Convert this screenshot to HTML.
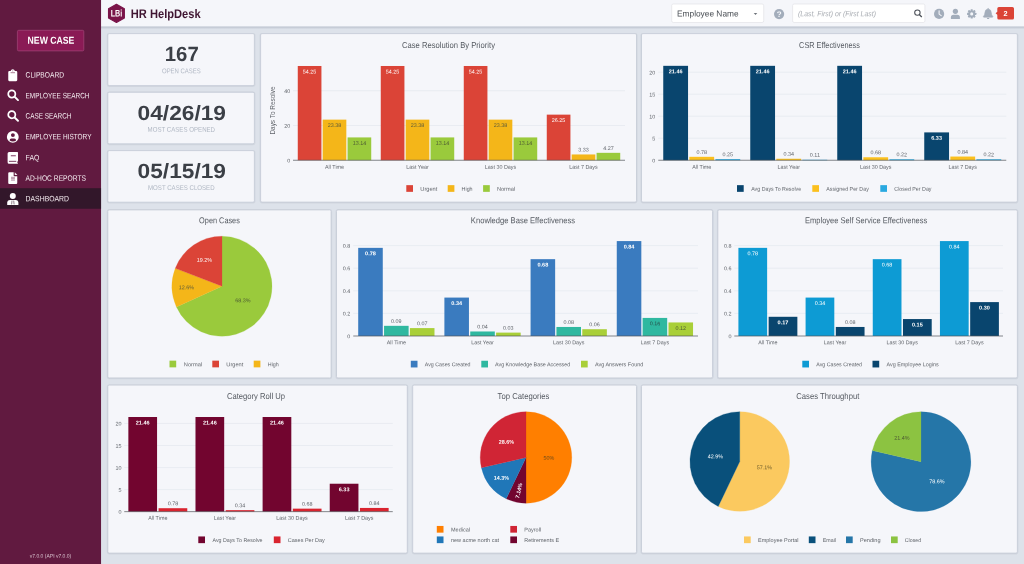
<!DOCTYPE html>
<html lang="en">
<head>
<meta charset="utf-8">
<title>HR HelpDesk - Dashboard</title>
<style>
*{box-sizing:border-box;margin:0;padding:0}
html,body{width:1024px;height:564px;overflow:hidden;background:#dde2ea;font-family:"Liberation Sans",Arial,sans-serif;}
#app{position:relative;width:1024px;height:564px;overflow:hidden;background:#dde2ea}
#sidebar{position:absolute;left:0;top:0;width:101px;height:564px;background:#611a40}
#topbar{position:absolute;left:101px;top:0;width:923px;height:26px;background:#f5f6fa}
.card{position:absolute;background:#f5f6fa}
svg.layer{position:absolute;left:0;top:0;width:1024px;height:564px;overflow:visible}
svg text{font-family:"Liberation Sans",Arial,sans-serif}
.t{position:absolute;white-space:nowrap;transform-origin:0 50%;line-height:1}
#newcase{position:absolute;left:17px;top:30px;width:67px;height:21px;background:#8a1a55;border-radius:1.5px}
.nav{position:absolute;left:0;width:101px;height:20.5px}
.nav.active{background:#32172a}
.field{position:absolute;top:4px;height:18px;background:#fff;border-radius:2px}
</style>
</head>
<body>
<div id="app">

<nav id="sidebar">
<div id="newcase"></div>
<div class="nav" style="top:64.70px"></div>
<div class="nav" style="top:85.40px"></div>
<div class="nav" style="top:105.70px"></div>
<div class="nav" style="top:126.40px"></div>
<div class="nav" style="top:147.40px"></div>
<div class="nav" style="top:168.00px"></div>
<div class="nav active" style="top:188.50px"></div>
</nav>
<header id="topbar"></header>
<div class="field" style="left:671.3px;width:92.6px"></div>
<div class="field" style="left:792.3px;width:132.8px"></div>
<section class="card" aria-label="Open cases" style="left:108px;top:34px;width:146px;height:51px"></section>
<section class="card" aria-label="Most cases opened" style="left:108px;top:93px;width:146px;height:50px"></section>
<section class="card" aria-label="Most cases closed" style="left:108px;top:151px;width:146px;height:51px"></section>
<section class="card" aria-label="Case Resolution By Priority" style="left:261px;top:34px;width:375px;height:168px"></section>
<section class="card" aria-label="CSR Effectiveness" style="left:642px;top:34px;width:375px;height:168px"></section>
<section class="card" aria-label="Open Cases" style="left:108px;top:210px;width:223px;height:168px"></section>
<section class="card" aria-label="Knowledge Base Effectiveness" style="left:337px;top:210px;width:375px;height:168px"></section>
<section class="card" aria-label="Employee Self Service Effectiveness" style="left:718px;top:210px;width:299px;height:168px"></section>
<section class="card" aria-label="Category Roll Up" style="left:108px;top:386px;width:299px;height:167px"></section>
<section class="card" aria-label="Top Categories" style="left:413px;top:386px;width:223px;height:167px"></section>
<section class="card" aria-label="Cases Throughput" style="left:642px;top:386px;width:375px;height:167px"></section>
<svg class="layer" viewBox="0 0 1024 564" width="1024" height="564">
<defs><linearGradient id="tbsh" x1="0" y1="0" x2="0" y2="1"><stop offset="0" stop-color="#d3d8e1"/><stop offset="0.38" stop-color="#c3c9d4"/><stop offset="1" stop-color="#dde2ea"/></linearGradient></defs>
<rect x="101" y="26.1" width="923" height="3.1" fill="url(#tbsh)"/>
<rect x="101" y="0" width="923" height="26.2" fill="#f5f6fa"/>
<rect x="0" y="0" width="101.05" height="564" fill="#611a40"/>
<rect x="0" y="188.2" width="101.05" height="20.55" fill="#32172a"/>
<rect x="17.4" y="30.3" width="66.4" height="20.6" rx="1.3" fill="#8a1a55" stroke="#a4487a" stroke-width="0.7"/>
<rect x="671.7" y="4.0" width="92" height="18.5" rx="1.6" fill="#ffffff" stroke="#e2e3e6" stroke-width="0.7"/>
<rect x="792.6" y="4.0" width="132.3" height="18.5" rx="1.6" fill="#ffffff" stroke="#e2e3e6" stroke-width="0.7"/>
<rect x="107.60" y="33.70" width="147.00" height="52.50" rx="1.6" fill="none" stroke="#b9c0cc" stroke-opacity=".35" stroke-width="1.6"/>
<rect x="107.80" y="33.60" width="146.60" height="52.00" rx="1.4" fill="#f5f6fa" stroke="#c4cad5" stroke-width="0.8"/>
<rect x="107.60" y="92.40" width="147.00" height="52.00" rx="1.6" fill="none" stroke="#b9c0cc" stroke-opacity=".35" stroke-width="1.6"/>
<rect x="107.80" y="92.30" width="146.60" height="51.50" rx="1.4" fill="#f5f6fa" stroke="#c4cad5" stroke-width="0.8"/>
<rect x="107.60" y="150.70" width="147.00" height="52.10" rx="1.6" fill="none" stroke="#b9c0cc" stroke-opacity=".35" stroke-width="1.6"/>
<rect x="107.80" y="150.60" width="146.60" height="51.60" rx="1.4" fill="#f5f6fa" stroke="#c4cad5" stroke-width="0.8"/>
<rect x="260.40" y="33.70" width="376.30" height="169.00" rx="1.6" fill="none" stroke="#b9c0cc" stroke-opacity=".35" stroke-width="1.6"/>
<rect x="260.60" y="33.60" width="375.90" height="168.50" rx="1.4" fill="#f5f6fa" stroke="#c4cad5" stroke-width="0.8"/>
<rect x="641.30" y="33.70" width="376.30" height="169.00" rx="1.6" fill="none" stroke="#b9c0cc" stroke-opacity=".35" stroke-width="1.6"/>
<rect x="641.50" y="33.60" width="375.90" height="168.50" rx="1.4" fill="#f5f6fa" stroke="#c4cad5" stroke-width="0.8"/>
<rect x="107.60" y="210.00" width="223.70" height="168.50" rx="1.6" fill="none" stroke="#b9c0cc" stroke-opacity=".35" stroke-width="1.6"/>
<rect x="107.80" y="209.90" width="223.30" height="168.00" rx="1.4" fill="#f5f6fa" stroke="#c4cad5" stroke-width="0.8"/>
<rect x="336.30" y="210.00" width="376.45" height="168.50" rx="1.6" fill="none" stroke="#b9c0cc" stroke-opacity=".35" stroke-width="1.6"/>
<rect x="336.50" y="209.90" width="376.05" height="168.00" rx="1.4" fill="#f5f6fa" stroke="#c4cad5" stroke-width="0.8"/>
<rect x="717.65" y="210.00" width="299.95" height="168.50" rx="1.6" fill="none" stroke="#b9c0cc" stroke-opacity=".35" stroke-width="1.6"/>
<rect x="717.85" y="209.90" width="299.55" height="168.00" rx="1.4" fill="#f5f6fa" stroke="#c4cad5" stroke-width="0.8"/>
<rect x="107.60" y="385.20" width="299.90" height="168.50" rx="1.6" fill="none" stroke="#b9c0cc" stroke-opacity=".35" stroke-width="1.6"/>
<rect x="107.80" y="385.10" width="299.50" height="168.00" rx="1.4" fill="#f5f6fa" stroke="#c4cad5" stroke-width="0.8"/>
<rect x="412.50" y="385.20" width="224.20" height="168.50" rx="1.6" fill="none" stroke="#b9c0cc" stroke-opacity=".35" stroke-width="1.6"/>
<rect x="412.70" y="385.10" width="223.80" height="168.00" rx="1.4" fill="#f5f6fa" stroke="#c4cad5" stroke-width="0.8"/>
<rect x="641.30" y="385.20" width="376.30" height="168.50" rx="1.6" fill="none" stroke="#b9c0cc" stroke-opacity=".35" stroke-width="1.6"/>
<rect x="641.50" y="385.10" width="375.90" height="168.00" rx="1.4" fill="#f5f6fa" stroke="#c4cad5" stroke-width="0.8"/>
<g transform="translate(12.75 75.2)"><path d="M-3.4 -4.1h1.3q.4-1.9 2.1-1.9t2.1 1.9h1.3q1.1 0 1.1 1.1v7.9q0 1.1-1.1 1.1h-6.8q-1.1 0-1.1-1.1v-7.9q0-1.1 1.1-1.1z" fill="#fff"/><path d="M-1.8 -2.5h3.7" stroke="#8a4a6c" stroke-width=".7" stroke-linecap="round"/><circle cx="0" cy="-4.3" r=".55" fill="#b98aa4"/></g>
<g transform="translate(12.9 95.3)"><circle cx="-1.1" cy="-1.3" r="3.55" fill="none" stroke="#fff" stroke-width="1.75"/><path d="M1.7 1.5L5.1 4.8" stroke="#fff" stroke-width="1.9" stroke-linecap="round"/></g>
<g transform="translate(12.9 116.0)"><circle cx="-1.1" cy="-1.3" r="3.55" fill="none" stroke="#fff" stroke-width="1.75"/><path d="M1.7 1.5L5.1 4.8" stroke="#fff" stroke-width="1.9" stroke-linecap="round"/></g>
<g transform="translate(12.8 136.9)"><circle cx="0" cy="0" r="5.9" fill="#fff"/><circle cx="0.1" cy="-1.8" r="1.95" fill="#611a40"/><path d="M-3.2 3.6q0-1.9 1.8-1.9h2.9q1.8 0 1.8 1.9q-1.4 .9-3.25 .9t-3.25-.9z" fill="#611a40"/></g>
<g transform="translate(12.7 157.8)"><path d="M-5.1 -4.4q0-1.5 1.5-1.5h8.2q.7 0 .7.7v8.2q0 .6-.6.7v1.4q.6.1.6.6q0 .3-.6.3h-8.3q-1.5 0-1.5-1.5z" fill="#fff"/><path d="M-1.9 -2.1h5" stroke="#9a6584" stroke-width="1.3"/><path d="M-3.4 3.55h6.6" stroke="#6d2a50" stroke-width=".9" stroke-linecap="round"/></g>
<g transform="translate(12.75 178.1)"><path d="M-4.5 -4.9q0-1 1-1h4.4v3.4q0 .6.6.6h3v6.8q0 1-1 1h-7q-1 0-1-1z" fill="#fff"/><path d="M2 -5.9l2.5 2.6v.2h-2.5z" fill="#f3e9ee"/><path d="M-1.7 -.8h3.9M-1.7 .6h3.9M-1.7 2h3.9" stroke="#9a6584" stroke-width=".75"/></g>
<g transform="translate(12.75 199.0)"><circle cx="0.05" cy="-3.0" r="3.0" fill="#fff"/><path d="M-5.55 6.1v-2.3q0-2.9 2.9-2.9h5.4q2.9 0 2.9 2.9v2.3z" fill="#fff"/><path d="M-.75 1.6L-1.15 5.4M.95 1.6L1.35 5.4" stroke="#4a2f42" stroke-width=".6"/></g>
<path d="M116.45 4.3L124.4 8.85V17.95L116.45 22.5L108.5 17.95V8.85Z" fill="#7a1449" stroke="#7a1449" stroke-width="1.1" stroke-linejoin="round"/>
<text x="116.50" y="16.50" font-size="9.6" fill="#ffffff" text-anchor="middle" font-weight="bold" textLength="11.60" lengthAdjust="spacingAndGlyphs" transform="rotate(0.04 116.50 13.20)">LBi</text>
<path d="M753.7 12.9h3.6l-1.8 2.1z" fill="#6f747b"/>
<circle cx="779.1" cy="14.1" r="5.1" fill="#a3adbb"/>
<text x="779.10" y="16.95" font-size="8" fill="#f4f6fa" text-anchor="middle" font-weight="bold" transform="rotate(0.04 779.10 14.20)">?</text>
<circle cx="917.4" cy="12.6" r="2.7" fill="none" stroke="#4a4f57" stroke-width="1.05"/><path d="M919.5 14.7L921.5 16.7" stroke="#4a4f57" stroke-width="1.25" stroke-linecap="round"/>
<circle cx="939.1" cy="13.9" r="5.1" fill="#a3adbb"/><path d="M939.1 10.7V14.1L941.2 15.6" fill="none" stroke="#f4f6fa" stroke-width="1.1" stroke-linecap="round" stroke-linejoin="round"/>
<circle cx="955.4" cy="11.3" r="2.6" fill="#a3adbb"/><path d="M950.9 19v-1.6q0-2.6 2.6-2.6h3.8q2.6 0 2.6 2.6v1.6z" fill="#a3adbb"/>
<g transform="translate(971.7 13.9) scale(0.9)"><rect x="-1.15" y="-5.2" width="2.3" height="3" rx=".4" fill="#a3adbb" transform="rotate(0)"/><rect x="-1.15" y="-5.2" width="2.3" height="3" rx=".4" fill="#a3adbb" transform="rotate(45)"/><rect x="-1.15" y="-5.2" width="2.3" height="3" rx=".4" fill="#a3adbb" transform="rotate(90)"/><rect x="-1.15" y="-5.2" width="2.3" height="3" rx=".4" fill="#a3adbb" transform="rotate(135)"/><rect x="-1.15" y="-5.2" width="2.3" height="3" rx=".4" fill="#a3adbb" transform="rotate(180)"/><rect x="-1.15" y="-5.2" width="2.3" height="3" rx=".4" fill="#a3adbb" transform="rotate(225)"/><rect x="-1.15" y="-5.2" width="2.3" height="3" rx=".4" fill="#a3adbb" transform="rotate(270)"/><rect x="-1.15" y="-5.2" width="2.3" height="3" rx=".4" fill="#a3adbb" transform="rotate(315)"/><circle r="3.9" fill="#a3adbb"/><circle r="1.7" fill="#f4f6fa"/></g>
<path d="M988.1 8.9q.5-.6 0-.6q-.5 0 0 .6q3.2.5 3.2 3.9q0 2.3 1.5 3.6q.3.8-.5.8h-8.4q-.8 0-.5-.8q1.5-1.3 1.5-3.6q0-3.4 3.2-3.9z" fill="#a3adbb" stroke="#a3adbb" stroke-width=".6" stroke-linejoin="round"/><path d="M986.8 17.9h2.6q-.2 1.2-1.3 1.2t-1.3-1.2z" fill="#a3adbb"/>
<path d="M998.9 6.9h13.5q1.6 0 1.6 1.6v9.5q0 1.6-1.6 1.6h-13.5q-1.6 0-1.6-1.6v-3.2l-1.7-1.5l1.7-1.5v-3.3q0-1.6 1.6-1.6z" fill="#db4437"/>
<text x="1005.60" y="15.91" font-size="7.3" fill="#ffffff" text-anchor="middle" font-weight="bold" transform="rotate(0.04 1005.60 13.40)">2</text>
<text x="27.60" y="43.71" font-size="10.2" fill="#ffffff" font-weight="bold" textLength="46.80" lengthAdjust="spacingAndGlyphs" transform="rotate(0.04 27.60 40.20)">NEW CASE</text>
<text x="25.60" y="77.48" font-size="7.8" fill="#f6eef2" textLength="38.40" lengthAdjust="spacingAndGlyphs" transform="rotate(0.04 25.60 74.80)">CLIPBOARD</text>
<text x="25.60" y="98.18" font-size="7.8" fill="#f6eef2" textLength="63.80" lengthAdjust="spacingAndGlyphs" transform="rotate(0.04 25.60 95.50)">EMPLOYEE SEARCH</text>
<text x="25.60" y="118.48" font-size="7.8" fill="#f6eef2" textLength="45.90" lengthAdjust="spacingAndGlyphs" transform="rotate(0.04 25.60 115.80)">CASE SEARCH</text>
<text x="25.60" y="139.18" font-size="7.8" fill="#f6eef2" textLength="65.90" lengthAdjust="spacingAndGlyphs" transform="rotate(0.04 25.60 136.50)">EMPLOYEE HISTORY</text>
<text x="25.60" y="160.18" font-size="7.8" fill="#f6eef2" textLength="13.80" lengthAdjust="spacingAndGlyphs" transform="rotate(0.04 25.60 157.50)">FAQ</text>
<text x="25.60" y="180.78" font-size="7.8" fill="#f6eef2" textLength="60.40" lengthAdjust="spacingAndGlyphs" transform="rotate(0.04 25.60 178.10)">AD-HOC REPORTS</text>
<text x="25.60" y="201.28" font-size="7.8" fill="#f6eef2" textLength="43.40" lengthAdjust="spacingAndGlyphs" transform="rotate(0.04 25.60 198.60)">DASHBOARD</text>
<text x="50.50" y="557.66" font-size="5.4" fill="#d9c3cf" text-anchor="middle" textLength="41.50" lengthAdjust="spacingAndGlyphs" transform="rotate(0.04 50.50 555.80)">v7.0.0 (API v7.0.0)</text>
<text x="130.80" y="18.00" font-size="12.5" fill="#401632" font-weight="bold" textLength="69.80" lengthAdjust="spacingAndGlyphs" transform="rotate(0.04 130.80 13.70)">HR HelpDesk</text>
<text x="677.00" y="16.56" font-size="8.6" fill="#4a4f55" textLength="61.60" lengthAdjust="spacingAndGlyphs" transform="rotate(0.04 677.00 13.60)">Employee Name</text>
<text x="798.00" y="16.31" font-size="7.6" fill="#a9adb3" font-style="italic" textLength="78.00" lengthAdjust="spacingAndGlyphs" transform="rotate(0.04 798.00 13.70)">(Last, First) or (First Last)</text>
<text x="181.80" y="61.09" font-size="20.6" fill="#3b3f46" text-anchor="middle" font-weight="bold" textLength="34.00" lengthAdjust="spacingAndGlyphs" transform="rotate(0.04 181.80 54.00)">167</text>
<text x="181.40" y="73.17" font-size="6.9" fill="#b1b8c4" text-anchor="middle" textLength="38.80" lengthAdjust="spacingAndGlyphs" transform="rotate(0.04 181.40 70.80)">OPEN CASES</text>
<text x="181.80" y="120.09" font-size="20.6" fill="#3b3f46" text-anchor="middle" font-weight="bold" textLength="88.40" lengthAdjust="spacingAndGlyphs" transform="rotate(0.04 181.80 113.00)">04/26/19</text>
<text x="181.30" y="131.87" font-size="6.9" fill="#b1b8c4" text-anchor="middle" textLength="67.50" lengthAdjust="spacingAndGlyphs" transform="rotate(0.04 181.30 129.50)">MOST CASES OPENED</text>
<text x="181.80" y="177.99" font-size="20.6" fill="#3b3f46" text-anchor="middle" font-weight="bold" textLength="88.40" lengthAdjust="spacingAndGlyphs" transform="rotate(0.04 181.80 170.90)">05/15/19</text>
<text x="181.30" y="189.97" font-size="6.9" fill="#b1b8c4" text-anchor="middle" textLength="66.50" lengthAdjust="spacingAndGlyphs" transform="rotate(0.04 181.30 187.60)">MOST CASES CLOSED</text>
<g>
<text x="448.50" y="47.96" font-size="8.6" fill="#555a61" text-anchor="middle" textLength="93.00" lengthAdjust="spacingAndGlyphs" transform="rotate(0.04 448.50 45.00)">Case Resolution By Priority</text>
<line x1="293.00" x2="625.00" y1="125.50" y2="125.50" stroke="#e1e5ec" stroke-width="0.6"/>
<line x1="293.00" x2="625.00" y1="90.75" y2="90.75" stroke="#e1e5ec" stroke-width="0.6"/>
<rect x="297.77" y="65.99" width="23.66" height="94.26" fill="#db4437"/>
<rect x="322.67" y="119.63" width="23.66" height="40.62" fill="#f4b619"/>
<rect x="347.57" y="137.42" width="23.66" height="22.83" fill="#9aca3c"/>
<rect x="380.77" y="65.99" width="23.66" height="94.26" fill="#db4437"/>
<rect x="405.67" y="119.63" width="23.66" height="40.62" fill="#f4b619"/>
<rect x="430.57" y="137.42" width="23.66" height="22.83" fill="#9aca3c"/>
<rect x="463.77" y="65.99" width="23.66" height="94.26" fill="#db4437"/>
<rect x="488.67" y="119.63" width="23.66" height="40.62" fill="#f4b619"/>
<rect x="513.57" y="137.42" width="23.66" height="22.83" fill="#9aca3c"/>
<rect x="546.77" y="114.64" width="23.66" height="45.61" fill="#db4437"/>
<rect x="571.67" y="154.46" width="23.66" height="5.79" fill="#f4b619"/>
<rect x="596.57" y="152.83" width="23.66" height="7.42" fill="#9aca3c"/>
<line x1="293.00" x2="625.00" y1="160.25" y2="160.25" stroke="#505459" stroke-width="0.7"/>
<text x="309.60" y="73.45" font-size="5.4" fill="#ffffff" text-anchor="middle" transform="rotate(0.04 309.60 71.59)">54.25</text>
<text x="334.50" y="127.08" font-size="5.4" fill="#5b5a3a" text-anchor="middle" transform="rotate(0.04 334.50 125.23)">23.38</text>
<text x="359.40" y="144.88" font-size="5.4" fill="#4d5a33" text-anchor="middle" transform="rotate(0.04 359.40 143.02)">13.14</text>
<text x="392.60" y="73.45" font-size="5.4" fill="#ffffff" text-anchor="middle" transform="rotate(0.04 392.60 71.59)">54.25</text>
<text x="417.50" y="127.08" font-size="5.4" fill="#5b5a3a" text-anchor="middle" transform="rotate(0.04 417.50 125.23)">23.38</text>
<text x="442.40" y="144.88" font-size="5.4" fill="#4d5a33" text-anchor="middle" transform="rotate(0.04 442.40 143.02)">13.14</text>
<text x="475.60" y="73.45" font-size="5.4" fill="#ffffff" text-anchor="middle" transform="rotate(0.04 475.60 71.59)">54.25</text>
<text x="500.50" y="127.08" font-size="5.4" fill="#5b5a3a" text-anchor="middle" transform="rotate(0.04 500.50 125.23)">23.38</text>
<text x="525.40" y="144.88" font-size="5.4" fill="#4d5a33" text-anchor="middle" transform="rotate(0.04 525.40 143.02)">13.14</text>
<text x="558.60" y="122.10" font-size="5.4" fill="#ffffff" text-anchor="middle" transform="rotate(0.04 558.60 120.24)">26.25</text>
<text x="583.50" y="151.57" font-size="5.4" fill="#61656b" text-anchor="middle" transform="rotate(0.04 583.50 149.71)">3.33</text>
<text x="608.40" y="149.94" font-size="5.4" fill="#61656b" text-anchor="middle" transform="rotate(0.04 608.40 148.08)">4.27</text>
<text x="290.20" y="162.41" font-size="5.4" fill="#61656b" text-anchor="end" transform="rotate(0.04 290.20 160.55)">0</text>
<text x="290.20" y="127.66" font-size="5.4" fill="#61656b" text-anchor="end" transform="rotate(0.04 290.20 125.80)">20</text>
<text x="290.20" y="92.91" font-size="5.4" fill="#61656b" text-anchor="end" transform="rotate(0.04 290.20 91.05)">40</text>
<text x="334.50" y="168.86" font-size="5.4" fill="#61656b" text-anchor="middle" transform="rotate(0.04 334.50 167.00)">All Time</text>
<text x="417.50" y="168.86" font-size="5.4" fill="#61656b" text-anchor="middle" transform="rotate(0.04 417.50 167.00)">Last Year</text>
<text x="500.50" y="168.86" font-size="5.4" fill="#61656b" text-anchor="middle" transform="rotate(0.04 500.50 167.00)">Last 30 Days</text>
<text x="583.50" y="168.86" font-size="5.4" fill="#61656b" text-anchor="middle" transform="rotate(0.04 583.50 167.00)">Last 7 Days</text>
<text x="272.60" y="112.74" font-size="6.5" fill="#61656b" text-anchor="middle" textLength="48.20" lengthAdjust="spacingAndGlyphs" transform="rotate(-90 272.60 110.50)">Days To Resolve</text>
<rect x="406.30" y="185.15" width="6.7" height="6.7" fill="#db4437"/>
<text x="420.30" y="190.69" font-size="5.5" fill="#61656b" textLength="17.00" lengthAdjust="spacingAndGlyphs" transform="rotate(0.04 420.30 188.80)">Urgent</text>
<rect x="447.70" y="185.15" width="6.7" height="6.7" fill="#f4b619"/>
<text x="461.60" y="190.69" font-size="5.5" fill="#61656b" textLength="11.00" lengthAdjust="spacingAndGlyphs" transform="rotate(0.04 461.60 188.80)">High</text>
<rect x="483.10" y="185.15" width="6.7" height="6.7" fill="#9aca3c"/>
<text x="496.90" y="190.69" font-size="5.5" fill="#61656b" textLength="18.25" lengthAdjust="spacingAndGlyphs" transform="rotate(0.04 496.90 188.80)">Normal</text>
</g>
<g>
<text x="829.50" y="47.96" font-size="8.6" fill="#555a61" text-anchor="middle" textLength="60.75" lengthAdjust="spacingAndGlyphs" transform="rotate(0.04 829.50 45.00)">CSR Effectiveness</text>
<line x1="658.25" x2="1006.25" y1="138.25" y2="138.25" stroke="#e1e5ec" stroke-width="0.6"/>
<line x1="658.25" x2="1006.25" y1="116.25" y2="116.25" stroke="#e1e5ec" stroke-width="0.6"/>
<line x1="658.25" x2="1006.25" y1="94.25" y2="94.25" stroke="#e1e5ec" stroke-width="0.6"/>
<line x1="658.25" x2="1006.25" y1="72.25" y2="72.25" stroke="#e1e5ec" stroke-width="0.6"/>
<rect x="663.25" y="65.83" width="24.79" height="94.42" fill="#09456e"/>
<rect x="689.35" y="156.82" width="24.79" height="3.43" fill="#fbc01e"/>
<rect x="715.45" y="159.15" width="24.79" height="1.10" fill="#2aa9e0"/>
<rect x="750.25" y="65.83" width="24.79" height="94.42" fill="#09456e"/>
<rect x="776.35" y="158.75" width="24.79" height="1.50" fill="#fbc01e"/>
<rect x="802.45" y="159.77" width="24.79" height="0.48" fill="#2aa9e0"/>
<rect x="837.25" y="65.83" width="24.79" height="94.42" fill="#09456e"/>
<rect x="863.35" y="157.26" width="24.79" height="2.99" fill="#fbc01e"/>
<rect x="889.45" y="159.28" width="24.79" height="0.97" fill="#2aa9e0"/>
<rect x="924.25" y="132.40" width="24.79" height="27.85" fill="#09456e"/>
<rect x="950.35" y="156.55" width="24.79" height="3.70" fill="#fbc01e"/>
<rect x="976.45" y="159.28" width="24.79" height="0.97" fill="#2aa9e0"/>
<line x1="658.25" x2="1006.25" y1="160.25" y2="160.25" stroke="#505459" stroke-width="0.7"/>
<text x="675.65" y="73.28" font-size="5.4" fill="#ffffff" text-anchor="middle" font-weight="bold" textLength="13.81" lengthAdjust="spacingAndGlyphs" transform="rotate(0.04 675.65 71.43)">21.46</text>
<text x="701.75" y="153.93" font-size="5.4" fill="#61656b" text-anchor="middle" transform="rotate(0.04 701.75 152.07)">0.78</text>
<text x="727.85" y="156.26" font-size="5.4" fill="#61656b" text-anchor="middle" transform="rotate(0.04 727.85 154.40)">0.25</text>
<text x="762.65" y="73.28" font-size="5.4" fill="#ffffff" text-anchor="middle" font-weight="bold" textLength="13.81" lengthAdjust="spacingAndGlyphs" transform="rotate(0.04 762.65 71.43)">21.46</text>
<text x="788.75" y="155.86" font-size="5.4" fill="#61656b" text-anchor="middle" transform="rotate(0.04 788.75 154.00)">0.34</text>
<text x="814.85" y="156.87" font-size="5.4" fill="#61656b" text-anchor="middle" transform="rotate(0.04 814.85 155.02)">0.11</text>
<text x="849.65" y="73.28" font-size="5.4" fill="#ffffff" text-anchor="middle" font-weight="bold" textLength="13.81" lengthAdjust="spacingAndGlyphs" transform="rotate(0.04 849.65 71.43)">21.46</text>
<text x="875.75" y="154.37" font-size="5.4" fill="#61656b" text-anchor="middle" transform="rotate(0.04 875.75 152.51)">0.68</text>
<text x="901.85" y="156.39" font-size="5.4" fill="#61656b" text-anchor="middle" transform="rotate(0.04 901.85 154.53)">0.22</text>
<text x="936.65" y="139.86" font-size="5.4" fill="#ffffff" text-anchor="middle" font-weight="bold" textLength="10.81" lengthAdjust="spacingAndGlyphs" transform="rotate(0.04 936.65 138.00)">6.33</text>
<text x="962.75" y="153.66" font-size="5.4" fill="#61656b" text-anchor="middle" transform="rotate(0.04 962.75 151.80)">0.84</text>
<text x="988.85" y="156.39" font-size="5.4" fill="#61656b" text-anchor="middle" transform="rotate(0.04 988.85 154.53)">0.22</text>
<text x="655.20" y="162.41" font-size="5.4" fill="#61656b" text-anchor="end" transform="rotate(0.04 655.20 160.55)">0</text>
<text x="655.20" y="140.41" font-size="5.4" fill="#61656b" text-anchor="end" transform="rotate(0.04 655.20 138.55)">5</text>
<text x="655.20" y="118.41" font-size="5.4" fill="#61656b" text-anchor="end" transform="rotate(0.04 655.20 116.55)">10</text>
<text x="655.20" y="96.41" font-size="5.4" fill="#61656b" text-anchor="end" transform="rotate(0.04 655.20 94.55)">15</text>
<text x="655.20" y="74.41" font-size="5.4" fill="#61656b" text-anchor="end" transform="rotate(0.04 655.20 72.55)">20</text>
<text x="701.75" y="168.86" font-size="5.4" fill="#61656b" text-anchor="middle" transform="rotate(0.04 701.75 167.00)">All Time</text>
<text x="788.75" y="168.86" font-size="5.4" fill="#61656b" text-anchor="middle" transform="rotate(0.04 788.75 167.00)">Last Year</text>
<text x="875.75" y="168.86" font-size="5.4" fill="#61656b" text-anchor="middle" transform="rotate(0.04 875.75 167.00)">Last 30 Days</text>
<text x="962.75" y="168.86" font-size="5.4" fill="#61656b" text-anchor="middle" transform="rotate(0.04 962.75 167.00)">Last 7 Days</text>
<rect x="737.00" y="185.15" width="6.7" height="6.7" fill="#09456e"/>
<text x="751.20" y="190.69" font-size="5.5" fill="#61656b" textLength="50.00" lengthAdjust="spacingAndGlyphs" transform="rotate(0.04 751.20 188.80)">Avg Days To Resolve</text>
<rect x="812.30" y="185.15" width="6.7" height="6.7" fill="#fbc01e"/>
<text x="826.30" y="190.69" font-size="5.5" fill="#61656b" textLength="42.50" lengthAdjust="spacingAndGlyphs" transform="rotate(0.04 826.30 188.80)">Assigned Per Day</text>
<rect x="880.30" y="185.15" width="6.7" height="6.7" fill="#2aa9e0"/>
<text x="894.30" y="190.69" font-size="5.5" fill="#61656b" textLength="37.25" lengthAdjust="spacingAndGlyphs" transform="rotate(0.04 894.30 188.80)">Closed Per Day</text>
</g>
<g>
<text x="219.50" y="223.26" font-size="8.6" fill="#555a61" text-anchor="middle" textLength="40.75" lengthAdjust="spacingAndGlyphs" transform="rotate(0.04 219.50 220.30)">Open Cases</text>
<path d="M222.00,286.25 L222.00,236.25 A50.00,50.00 0 1 1 176.45,306.88 Z" fill="#9aca3c" stroke="#9aca3c" stroke-width="0.25" stroke-linejoin="round"/>
<path d="M222.00,286.25 L176.45,306.88 A50.00,50.00 0 0 1 175.31,268.37 Z" fill="#f4b619" stroke="#f4b619" stroke-width="0.25" stroke-linejoin="round"/>
<path d="M222.00,286.25 L175.31,268.37 A50.00,50.00 0 0 1 222.00,236.25 Z" fill="#db4437" stroke="#db4437" stroke-width="0.25" stroke-linejoin="round"/>
<text x="243.00" y="302.16" font-size="5.4" fill="#4d5a33" text-anchor="middle" transform="rotate(0.04 243.00 300.30)">68.3%</text>
<text x="204.30" y="261.86" font-size="5.4" fill="#ffffff" text-anchor="middle" transform="rotate(0.04 204.30 260.00)">19.2%</text>
<text x="186.30" y="289.16" font-size="5.4" fill="#5b5a3a" text-anchor="middle" transform="rotate(0.04 186.30 287.30)">12.6%</text>
<rect x="169.50" y="360.65" width="6.7" height="6.7" fill="#9aca3c"/>
<text x="183.80" y="366.19" font-size="5.5" fill="#61656b" textLength="18.25" lengthAdjust="spacingAndGlyphs" transform="rotate(0.04 183.80 364.30)">Normal</text>
<rect x="212.30" y="360.65" width="6.7" height="6.7" fill="#db4437"/>
<text x="226.30" y="366.19" font-size="5.5" fill="#61656b" textLength="17.00" lengthAdjust="spacingAndGlyphs" transform="rotate(0.04 226.30 364.30)">Urgent</text>
<rect x="253.70" y="360.65" width="6.7" height="6.7" fill="#f4b619"/>
<text x="267.80" y="366.19" font-size="5.5" fill="#61656b" textLength="11.00" lengthAdjust="spacingAndGlyphs" transform="rotate(0.04 267.80 364.30)">High</text>
</g>
<g>
<text x="523.00" y="223.26" font-size="8.6" fill="#555a61" text-anchor="middle" textLength="104.25" lengthAdjust="spacingAndGlyphs" transform="rotate(0.04 523.00 220.30)">Knowledge Base Effectiveness</text>
<line x1="353.25" x2="698.00" y1="313.40" y2="313.40" stroke="#e1e5ec" stroke-width="0.6"/>
<line x1="353.25" x2="698.00" y1="290.80" y2="290.80" stroke="#e1e5ec" stroke-width="0.6"/>
<line x1="353.25" x2="698.00" y1="268.20" y2="268.20" stroke="#e1e5ec" stroke-width="0.6"/>
<line x1="353.25" x2="698.00" y1="245.60" y2="245.60" stroke="#e1e5ec" stroke-width="0.6"/>
<rect x="358.21" y="247.86" width="24.56" height="88.14" fill="#3a7bbf"/>
<rect x="384.06" y="325.83" width="24.56" height="10.17" fill="#2fb8a0"/>
<rect x="409.92" y="328.09" width="24.56" height="7.91" fill="#a9cf38"/>
<rect x="444.39" y="297.58" width="24.56" height="38.42" fill="#3a7bbf"/>
<rect x="470.25" y="331.48" width="24.56" height="4.52" fill="#2fb8a0"/>
<rect x="496.11" y="332.61" width="24.56" height="3.39" fill="#a9cf38"/>
<rect x="530.58" y="259.16" width="24.56" height="76.84" fill="#3a7bbf"/>
<rect x="556.44" y="326.96" width="24.56" height="9.04" fill="#2fb8a0"/>
<rect x="582.29" y="329.22" width="24.56" height="6.78" fill="#a9cf38"/>
<rect x="616.77" y="241.08" width="24.56" height="94.92" fill="#3a7bbf"/>
<rect x="642.62" y="317.92" width="24.56" height="18.08" fill="#2fb8a0"/>
<rect x="668.48" y="322.44" width="24.56" height="13.56" fill="#a9cf38"/>
<line x1="353.25" x2="698.00" y1="336.00" y2="336.00" stroke="#505459" stroke-width="0.7"/>
<text x="370.49" y="255.32" font-size="5.4" fill="#ffffff" text-anchor="middle" font-weight="bold" textLength="10.81" lengthAdjust="spacingAndGlyphs" transform="rotate(0.04 370.49 253.46)">0.78</text>
<text x="396.34" y="322.94" font-size="5.4" fill="#61656b" text-anchor="middle" transform="rotate(0.04 396.34 321.08)">0.09</text>
<text x="422.20" y="325.20" font-size="5.4" fill="#61656b" text-anchor="middle" transform="rotate(0.04 422.20 323.34)">0.07</text>
<text x="456.67" y="305.04" font-size="5.4" fill="#ffffff" text-anchor="middle" font-weight="bold" textLength="10.81" lengthAdjust="spacingAndGlyphs" transform="rotate(0.04 456.67 303.18)">0.34</text>
<text x="482.53" y="328.59" font-size="5.4" fill="#61656b" text-anchor="middle" transform="rotate(0.04 482.53 326.73)">0.04</text>
<text x="508.39" y="329.72" font-size="5.4" fill="#61656b" text-anchor="middle" transform="rotate(0.04 508.39 327.86)">0.03</text>
<text x="542.86" y="266.62" font-size="5.4" fill="#ffffff" text-anchor="middle" font-weight="bold" textLength="10.81" lengthAdjust="spacingAndGlyphs" transform="rotate(0.04 542.86 264.76)">0.68</text>
<text x="568.72" y="324.07" font-size="5.4" fill="#61656b" text-anchor="middle" transform="rotate(0.04 568.72 322.21)">0.08</text>
<text x="594.58" y="326.33" font-size="5.4" fill="#61656b" text-anchor="middle" transform="rotate(0.04 594.58 324.47)">0.06</text>
<text x="629.05" y="248.54" font-size="5.4" fill="#ffffff" text-anchor="middle" font-weight="bold" textLength="10.81" lengthAdjust="spacingAndGlyphs" transform="rotate(0.04 629.05 246.68)">0.84</text>
<text x="654.91" y="325.38" font-size="5.4" fill="#27504a" text-anchor="middle" transform="rotate(0.04 654.91 323.52)">0.16</text>
<text x="680.76" y="329.90" font-size="5.4" fill="#4d5a33" text-anchor="middle" transform="rotate(0.04 680.76 328.04)">0.12</text>
<text x="350.20" y="338.16" font-size="5.4" fill="#61656b" text-anchor="end" transform="rotate(0.04 350.20 336.30)">0</text>
<text x="350.20" y="315.56" font-size="5.4" fill="#61656b" text-anchor="end" transform="rotate(0.04 350.20 313.70)">0.2</text>
<text x="350.20" y="292.96" font-size="5.4" fill="#61656b" text-anchor="end" transform="rotate(0.04 350.20 291.10)">0.4</text>
<text x="350.20" y="270.36" font-size="5.4" fill="#61656b" text-anchor="end" transform="rotate(0.04 350.20 268.50)">0.6</text>
<text x="350.20" y="247.76" font-size="5.4" fill="#61656b" text-anchor="end" transform="rotate(0.04 350.20 245.90)">0.8</text>
<text x="396.34" y="344.16" font-size="5.4" fill="#61656b" text-anchor="middle" transform="rotate(0.04 396.34 342.30)">All Time</text>
<text x="482.53" y="344.16" font-size="5.4" fill="#61656b" text-anchor="middle" transform="rotate(0.04 482.53 342.30)">Last Year</text>
<text x="568.72" y="344.16" font-size="5.4" fill="#61656b" text-anchor="middle" transform="rotate(0.04 568.72 342.30)">Last 30 Days</text>
<text x="654.91" y="344.16" font-size="5.4" fill="#61656b" text-anchor="middle" transform="rotate(0.04 654.91 342.30)">Last 7 Days</text>
<rect x="410.80" y="360.75" width="6.7" height="6.7" fill="#3a7bbf"/>
<text x="424.80" y="366.29" font-size="5.5" fill="#61656b" textLength="45.75" lengthAdjust="spacingAndGlyphs" transform="rotate(0.04 424.80 364.40)">Avg Cases Created</text>
<rect x="481.30" y="360.75" width="6.7" height="6.7" fill="#2fb8a0"/>
<text x="495.00" y="366.29" font-size="5.5" fill="#61656b" textLength="75.25" lengthAdjust="spacingAndGlyphs" transform="rotate(0.04 495.00 364.40)">Avg Knowledge Base Accessed</text>
<rect x="581.00" y="360.75" width="6.7" height="6.7" fill="#a9cf38"/>
<text x="595.00" y="366.29" font-size="5.5" fill="#61656b" textLength="48.25" lengthAdjust="spacingAndGlyphs" transform="rotate(0.04 595.00 364.40)">Avg Answers Found</text>
</g>
<g>
<text x="866.20" y="223.26" font-size="8.6" fill="#555a61" text-anchor="middle" textLength="122.25" lengthAdjust="spacingAndGlyphs" transform="rotate(0.04 866.20 220.30)">Employee Self Service Effectiveness</text>
<line x1="734.30" x2="1003.00" y1="313.40" y2="313.40" stroke="#e1e5ec" stroke-width="0.6"/>
<line x1="734.30" x2="1003.00" y1="290.80" y2="290.80" stroke="#e1e5ec" stroke-width="0.6"/>
<line x1="734.30" x2="1003.00" y1="268.20" y2="268.20" stroke="#e1e5ec" stroke-width="0.6"/>
<line x1="734.30" x2="1003.00" y1="245.60" y2="245.60" stroke="#e1e5ec" stroke-width="0.6"/>
<rect x="738.41" y="247.86" width="28.72" height="88.14" fill="#0d9bd4"/>
<rect x="768.64" y="316.79" width="28.72" height="19.21" fill="#09456e"/>
<rect x="805.59" y="297.58" width="28.72" height="38.42" fill="#0d9bd4"/>
<rect x="835.82" y="326.96" width="28.72" height="9.04" fill="#09456e"/>
<rect x="872.76" y="259.16" width="28.72" height="76.84" fill="#0d9bd4"/>
<rect x="902.99" y="319.05" width="28.72" height="16.95" fill="#09456e"/>
<rect x="939.94" y="241.08" width="28.72" height="94.92" fill="#0d9bd4"/>
<rect x="970.17" y="302.10" width="28.72" height="33.90" fill="#09456e"/>
<line x1="734.30" x2="1003.00" y1="336.00" y2="336.00" stroke="#505459" stroke-width="0.7"/>
<text x="752.77" y="255.32" font-size="5.4" fill="#ffffff" text-anchor="middle" transform="rotate(0.04 752.77 253.46)">0.78</text>
<text x="783.00" y="324.25" font-size="5.4" fill="#ffffff" text-anchor="middle" font-weight="bold" textLength="10.81" lengthAdjust="spacingAndGlyphs" transform="rotate(0.04 783.00 322.39)">0.17</text>
<text x="819.95" y="305.04" font-size="5.4" fill="#ffffff" text-anchor="middle" transform="rotate(0.04 819.95 303.18)">0.34</text>
<text x="850.18" y="324.07" font-size="5.4" fill="#61656b" text-anchor="middle" transform="rotate(0.04 850.18 322.21)">0.08</text>
<text x="887.12" y="266.62" font-size="5.4" fill="#ffffff" text-anchor="middle" transform="rotate(0.04 887.12 264.76)">0.68</text>
<text x="917.35" y="326.51" font-size="5.4" fill="#ffffff" text-anchor="middle" font-weight="bold" textLength="10.81" lengthAdjust="spacingAndGlyphs" transform="rotate(0.04 917.35 324.65)">0.15</text>
<text x="954.30" y="248.54" font-size="5.4" fill="#ffffff" text-anchor="middle" transform="rotate(0.04 954.30 246.68)">0.84</text>
<text x="984.53" y="309.56" font-size="5.4" fill="#ffffff" text-anchor="middle" font-weight="bold" textLength="10.81" lengthAdjust="spacingAndGlyphs" transform="rotate(0.04 984.53 307.70)">0.30</text>
<text x="731.60" y="338.16" font-size="5.4" fill="#61656b" text-anchor="end" transform="rotate(0.04 731.60 336.30)">0</text>
<text x="731.60" y="315.56" font-size="5.4" fill="#61656b" text-anchor="end" transform="rotate(0.04 731.60 313.70)">0.2</text>
<text x="731.60" y="292.96" font-size="5.4" fill="#61656b" text-anchor="end" transform="rotate(0.04 731.60 291.10)">0.4</text>
<text x="731.60" y="270.36" font-size="5.4" fill="#61656b" text-anchor="end" transform="rotate(0.04 731.60 268.50)">0.6</text>
<text x="731.60" y="247.76" font-size="5.4" fill="#61656b" text-anchor="end" transform="rotate(0.04 731.60 245.90)">0.8</text>
<text x="767.89" y="344.16" font-size="5.4" fill="#61656b" text-anchor="middle" transform="rotate(0.04 767.89 342.30)">All Time</text>
<text x="835.06" y="344.16" font-size="5.4" fill="#61656b" text-anchor="middle" transform="rotate(0.04 835.06 342.30)">Last Year</text>
<text x="902.24" y="344.16" font-size="5.4" fill="#61656b" text-anchor="middle" transform="rotate(0.04 902.24 342.30)">Last 30 Days</text>
<text x="969.41" y="344.16" font-size="5.4" fill="#61656b" text-anchor="middle" transform="rotate(0.04 969.41 342.30)">Last 7 Days</text>
<rect x="802.30" y="360.75" width="6.7" height="6.7" fill="#0d9bd4"/>
<text x="816.30" y="366.29" font-size="5.5" fill="#61656b" textLength="45.75" lengthAdjust="spacingAndGlyphs" transform="rotate(0.04 816.30 364.40)">Avg Cases Created</text>
<rect x="872.50" y="360.75" width="6.7" height="6.7" fill="#09456e"/>
<text x="886.50" y="366.29" font-size="5.5" fill="#61656b" textLength="52.25" lengthAdjust="spacingAndGlyphs" transform="rotate(0.04 886.50 364.40)">Avg Employee Logins</text>
</g>
<g>
<text x="256.00" y="398.96" font-size="8.6" fill="#555a61" text-anchor="middle" textLength="58.00" lengthAdjust="spacingAndGlyphs" transform="rotate(0.04 256.00 396.00)">Category Roll Up</text>
<line x1="124.25" x2="392.75" y1="489.60" y2="489.60" stroke="#e1e5ec" stroke-width="0.6"/>
<line x1="124.25" x2="392.75" y1="467.55" y2="467.55" stroke="#e1e5ec" stroke-width="0.6"/>
<line x1="124.25" x2="392.75" y1="445.50" y2="445.50" stroke="#e1e5ec" stroke-width="0.6"/>
<line x1="124.25" x2="392.75" y1="423.45" y2="423.45" stroke="#e1e5ec" stroke-width="0.6"/>
<rect x="128.36" y="417.01" width="28.70" height="94.64" fill="#72052f"/>
<rect x="158.57" y="508.21" width="28.70" height="3.44" fill="#d9242f"/>
<rect x="195.49" y="417.01" width="28.70" height="94.64" fill="#72052f"/>
<rect x="225.69" y="510.15" width="28.70" height="1.50" fill="#d9242f"/>
<rect x="262.61" y="417.01" width="28.70" height="94.64" fill="#72052f"/>
<rect x="292.82" y="508.65" width="28.70" height="3.00" fill="#d9242f"/>
<rect x="329.74" y="483.73" width="28.70" height="27.92" fill="#72052f"/>
<rect x="359.94" y="507.95" width="28.70" height="3.70" fill="#d9242f"/>
<line x1="124.25" x2="392.75" y1="511.65" y2="511.65" stroke="#505459" stroke-width="0.7"/>
<text x="142.71" y="424.47" font-size="5.4" fill="#ffffff" text-anchor="middle" font-weight="bold" textLength="13.81" lengthAdjust="spacingAndGlyphs" transform="rotate(0.04 142.71 422.61)">21.46</text>
<text x="172.92" y="505.32" font-size="5.4" fill="#61656b" text-anchor="middle" transform="rotate(0.04 172.92 503.46)">0.78</text>
<text x="209.83" y="424.47" font-size="5.4" fill="#ffffff" text-anchor="middle" font-weight="bold" textLength="13.81" lengthAdjust="spacingAndGlyphs" transform="rotate(0.04 209.83 422.61)">21.46</text>
<text x="240.04" y="507.26" font-size="5.4" fill="#61656b" text-anchor="middle" transform="rotate(0.04 240.04 505.40)">0.34</text>
<text x="276.96" y="424.47" font-size="5.4" fill="#ffffff" text-anchor="middle" font-weight="bold" textLength="13.81" lengthAdjust="spacingAndGlyphs" transform="rotate(0.04 276.96 422.61)">21.46</text>
<text x="307.17" y="505.76" font-size="5.4" fill="#61656b" text-anchor="middle" transform="rotate(0.04 307.17 503.90)">0.68</text>
<text x="344.08" y="491.19" font-size="5.4" fill="#ffffff" text-anchor="middle" font-weight="bold" textLength="10.81" lengthAdjust="spacingAndGlyphs" transform="rotate(0.04 344.08 489.33)">6.33</text>
<text x="374.29" y="505.05" font-size="5.4" fill="#61656b" text-anchor="middle" transform="rotate(0.04 374.29 503.20)">0.84</text>
<text x="121.60" y="513.81" font-size="5.4" fill="#61656b" text-anchor="end" transform="rotate(0.04 121.60 511.95)">0</text>
<text x="121.60" y="491.76" font-size="5.4" fill="#61656b" text-anchor="end" transform="rotate(0.04 121.60 489.90)">5</text>
<text x="121.60" y="469.71" font-size="5.4" fill="#61656b" text-anchor="end" transform="rotate(0.04 121.60 467.85)">10</text>
<text x="121.60" y="447.66" font-size="5.4" fill="#61656b" text-anchor="end" transform="rotate(0.04 121.60 445.80)">15</text>
<text x="121.60" y="425.61" font-size="5.4" fill="#61656b" text-anchor="end" transform="rotate(0.04 121.60 423.75)">20</text>
<text x="157.81" y="519.86" font-size="5.4" fill="#61656b" text-anchor="middle" transform="rotate(0.04 157.81 518.00)">All Time</text>
<text x="224.94" y="519.86" font-size="5.4" fill="#61656b" text-anchor="middle" transform="rotate(0.04 224.94 518.00)">Last Year</text>
<text x="292.06" y="519.86" font-size="5.4" fill="#61656b" text-anchor="middle" transform="rotate(0.04 292.06 518.00)">Last 30 Days</text>
<text x="359.19" y="519.86" font-size="5.4" fill="#61656b" text-anchor="middle" transform="rotate(0.04 359.19 518.00)">Last 7 Days</text>
<rect x="198.30" y="536.45" width="6.7" height="6.7" fill="#72052f"/>
<text x="212.50" y="541.99" font-size="5.5" fill="#61656b" textLength="50.00" lengthAdjust="spacingAndGlyphs" transform="rotate(0.04 212.50 540.10)">Avg Days To Resolve</text>
<rect x="273.80" y="536.45" width="6.7" height="6.7" fill="#d9242f"/>
<text x="287.80" y="541.99" font-size="5.5" fill="#61656b" transform="rotate(0.04 287.80 540.10)">Cases Per Day</text>
</g>
<g>
<text x="523.50" y="398.96" font-size="8.6" fill="#555a61" text-anchor="middle" textLength="51.75" lengthAdjust="spacingAndGlyphs" transform="rotate(0.04 523.50 396.00)">Top Categories</text>
<path d="M526.00,457.50 L526.00,411.75 A45.75,45.75 0 0 1 526.06,503.25 Z" fill="#ff7f00" stroke="#ff7f00" stroke-width="0.25" stroke-linejoin="round"/>
<path d="M526.00,457.50 L526.06,503.25 A45.75,45.75 0 0 1 506.22,498.75 Z" fill="#72052f" stroke="#72052f" stroke-width="0.25" stroke-linejoin="round"/>
<path d="M526.00,457.50 L506.22,498.75 A45.75,45.75 0 0 1 481.41,467.73 Z" fill="#2077b8" stroke="#2077b8" stroke-width="0.25" stroke-linejoin="round"/>
<path d="M526.00,457.50 L481.41,467.73 A45.75,45.75 0 0 1 526.00,411.75 Z" fill="#d02535" stroke="#d02535" stroke-width="0.25" stroke-linejoin="round"/>
<text x="549.00" y="459.86" font-size="5.4" fill="#6a4a1a" text-anchor="middle" transform="rotate(0.04 549.00 458.00)">50%</text>
<text x="506.30" y="443.86" font-size="5.4" fill="#ffffff" text-anchor="middle" font-weight="bold" transform="rotate(0.04 506.30 442.00)">28.6%</text>
<text x="501.30" y="479.66" font-size="5.4" fill="#ffffff" text-anchor="middle" font-weight="bold" transform="rotate(0.04 501.30 477.80)">14.3%</text>
<text x="518.90" y="492.46" font-size="5.4" fill="#ffffff" text-anchor="middle" font-weight="bold" transform="rotate(-77 518.90 490.60)">7.14%</text>
<rect x="436.80" y="525.95" width="6.7" height="6.7" fill="#ff7f00"/>
<text x="451.00" y="531.49" font-size="5.5" fill="#61656b" transform="rotate(0.04 451.00 529.60)">Medical</text>
<rect x="510.30" y="525.95" width="6.7" height="6.7" fill="#d02535"/>
<text x="524.30" y="531.49" font-size="5.5" fill="#61656b" transform="rotate(0.04 524.30 529.60)">Payroll</text>
<rect x="436.80" y="536.45" width="6.7" height="6.7" fill="#2077b8"/>
<text x="451.00" y="541.99" font-size="5.5" fill="#61656b" transform="rotate(0.04 451.00 540.10)">new acme north cat</text>
<rect x="510.30" y="536.45" width="6.7" height="6.7" fill="#72052f"/>
<text x="524.30" y="541.99" font-size="5.5" fill="#61656b" transform="rotate(0.04 524.30 540.10)">Retirements E</text>
</g>
<g>
<text x="827.80" y="398.96" font-size="8.6" fill="#555a61" text-anchor="middle" textLength="63.00" lengthAdjust="spacingAndGlyphs" transform="rotate(0.04 827.80 396.00)">Cases Throughput</text>
<path d="M739.75,461.50 L739.75,411.70 A49.80,49.80 0 1 1 718.26,506.43 Z" fill="#fbc95f" stroke="#fbc95f" stroke-width="0.25" stroke-linejoin="round"/>
<path d="M739.75,461.50 L718.26,506.43 A49.80,49.80 0 0 1 739.75,411.70 Z" fill="#09507b" stroke="#09507b" stroke-width="0.25" stroke-linejoin="round"/>
<text x="715.50" y="458.36" font-size="5.4" fill="#ffffff" text-anchor="middle" transform="rotate(0.04 715.50 456.50)">42.9%</text>
<text x="764.30" y="469.36" font-size="5.4" fill="#6a5a2a" text-anchor="middle" transform="rotate(0.04 764.30 467.50)">57.1%</text>
<path d="M921.00,461.70 L921.00,411.80 A49.90,49.90 0 1 1 872.37,450.51 Z" fill="#2576a8" stroke="#2576a8" stroke-width="0.25" stroke-linejoin="round"/>
<path d="M921.00,461.70 L872.37,450.51 A49.90,49.90 0 0 1 921.00,411.80 Z" fill="#8cc341" stroke="#8cc341" stroke-width="0.25" stroke-linejoin="round"/>
<text x="901.80" y="439.86" font-size="5.4" fill="#4d5a33" text-anchor="middle" transform="rotate(0.04 901.80 438.00)">21.4%</text>
<text x="936.80" y="483.36" font-size="5.4" fill="#ffffff" text-anchor="middle" transform="rotate(0.04 936.80 481.50)">78.6%</text>
<rect x="744.00" y="536.45" width="6.7" height="6.7" fill="#fbc95f"/>
<text x="758.00" y="541.99" font-size="5.5" fill="#61656b" textLength="40.50" lengthAdjust="spacingAndGlyphs" transform="rotate(0.04 758.00 540.10)">Employee Portal</text>
<rect x="808.80" y="536.45" width="6.7" height="6.7" fill="#09507b"/>
<text x="822.80" y="541.99" font-size="5.5" fill="#61656b" textLength="13.25" lengthAdjust="spacingAndGlyphs" transform="rotate(0.04 822.80 540.10)">Email</text>
<rect x="846.00" y="536.45" width="6.7" height="6.7" fill="#2576a8"/>
<text x="860.00" y="541.99" font-size="5.5" fill="#61656b" textLength="20.50" lengthAdjust="spacingAndGlyphs" transform="rotate(0.04 860.00 540.10)">Pending</text>
<rect x="891.00" y="536.45" width="6.7" height="6.7" fill="#8cc341"/>
<text x="904.80" y="541.99" font-size="5.5" fill="#61656b" textLength="16.25" lengthAdjust="spacingAndGlyphs" transform="rotate(0.04 904.80 540.10)">Closed</text>
</g>
</svg>
</div>
</body>
</html>
